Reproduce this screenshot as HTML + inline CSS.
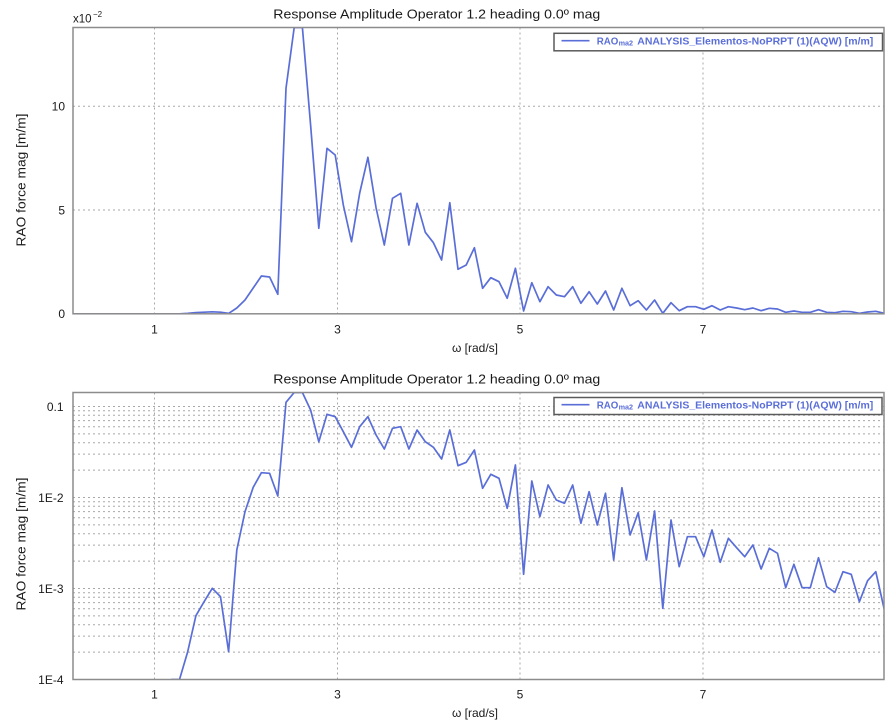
<!DOCTYPE html>
<html>
<head>
<meta charset="utf-8">
<style>
  html, body { margin:0; padding:0; background:#ffffff; }
  svg { display:block; }
  text { font-family: "Liberation Sans", "DejaVu Sans", sans-serif; fill:#1a1a1a; }
</style>
</head>
<body>
<svg width="888" height="727" viewBox="0 0 888 727" xmlns="http://www.w3.org/2000/svg">
  <defs>
    <clipPath id="clipTop"><rect x="73" y="27.5" width="811" height="286.3"/></clipPath>
    <clipPath id="clipBot"><rect x="73" y="392.5" width="811" height="287"/></clipPath>
  </defs>
  <rect x="0" y="0" width="888" height="727" fill="#ffffff"/>

  <!-- ================= TOP CHART ================= -->
  <text x="273.3" y="18.5" font-size="13" textLength="327" lengthAdjust="spacingAndGlyphs">Response Amplitude Operator 1.2 heading 0.0º mag</text>
  <text x="73" y="22.5" font-size="11.5">x10</text>
  <text x="93" y="17" font-size="8">−2</text>

  <!-- grid -->
  <g stroke="#a8a8a8" stroke-width="1" stroke-dasharray="2,3" fill="none">
    <line x1="154.5" y1="27.5" x2="154.5" y2="313.8"/>
    <line x1="337.5" y1="27.5" x2="337.5" y2="313.8"/>
    <line x1="520" y1="27.5" x2="520" y2="313.8"/>
    <line x1="703" y1="27.5" x2="703" y2="313.8"/>
    <line x1="73" y1="210" x2="884" y2="210"/>
    <line x1="73" y1="106.3" x2="884" y2="106.3"/>
  </g>

  <!-- series -->
  <polyline clip-path="url(#clipTop)" fill="none" stroke="#5a6ed8" stroke-width="1.7" stroke-linejoin="round"
    points="73,313.8 179.5,313.8 187.7,313.3 195.9,312.6 204.1,312.2 212.3,311.8 220.5,312.2 228.6,313.4 236.8,308 245,300 253.2,288 261.4,276 269.6,277 277.8,294.3 286,88.3 294.2,27.5 302.4,27.5 310.6,125 318.8,228.3 327,148.3 335.2,155 343.3,205 351.5,241.7 359.7,193 367.9,157.3 376.1,208 384.3,245 392.5,198.3 400.7,193.3 408.9,245 417.1,203.3 425.3,232.3 433.4,242.7 441.6,260 449.8,202.7 458,269.3 466.2,265 474.4,247.7 482.6,288.3 490.8,277.7 499,281.7 507.2,298.3 515.4,268.3 523.6,311 531.8,282.7 539.9,301.7 548.1,286.7 556.3,295 564.5,296.7 572.7,286.7 580.9,303.3 589.1,291.7 597.3,304 605.5,291 613.7,310 621.9,288.3 630.1,305.7 638.2,300.7 646.4,310 654.6,300 662.8,313.3 671,302.7 679.2,310.7 687.4,306.7 695.6,306.7 703.8,309.3 712,305.7 720.2,310 728.4,306.7 736.6,308 744.7,309.7 752.9,308 761.1,310.7 769.3,308.3 777.5,309 785.7,312.3 793.9,311 802.1,312.3 810.3,312.3 818.5,309.7 826.7,312.3 834.9,312.7 843,311.3 851.2,311.7 859.4,313.3 867.6,312 875.8,311.3 884,313.3"/>

  <!-- frame -->
  <rect x="73" y="27.5" width="811" height="286.3" fill="none" stroke="#8c8c8c" stroke-width="1.5"/>

  <!-- y ticks -->
  <g font-size="12" text-anchor="end">
    <text x="65" y="110.6">10</text>
    <text x="65" y="214.3">5</text>
    <text x="65" y="318.1">0</text>
  </g>
  <!-- x ticks -->
  <g font-size="12" text-anchor="middle">
    <text x="154.5" y="333.5">1</text>
    <text x="337.5" y="333.5">3</text>
    <text x="520" y="333.5">5</text>
    <text x="703" y="333.5">7</text>
  </g>
  <text x="475" y="352" font-size="12" text-anchor="middle">ω [rad/s]</text>
  <text transform="translate(25.5,180) rotate(-90)" font-size="13" text-anchor="middle" textLength="133" lengthAdjust="spacingAndGlyphs">RAO force mag [m/m]</text>

  <!-- legend -->
  <rect x="554" y="33.3" width="328.5" height="17.5" fill="#ffffff" stroke="#5a5a5a" stroke-width="1.5"/>
  <line x1="561.5" y1="40.7" x2="589.5" y2="40.7" stroke="#5a6ed8" stroke-width="1.7"/>
  <text x="596.7" y="44.6" font-size="10.5" font-weight="bold" style="fill:#5a6ed8" textLength="21.6" lengthAdjust="spacingAndGlyphs">RAO</text>
  <text x="618.6" y="45.6" font-size="7" font-weight="bold" style="fill:#5a6ed8" textLength="14.5" lengthAdjust="spacingAndGlyphs">ma2</text>
  <text x="637.3" y="44.6" font-size="10.5" font-weight="bold" style="fill:#5a6ed8" textLength="236" lengthAdjust="spacingAndGlyphs">ANALYSIS_Elementos-NoPRPT (1)(AQW) [m/m]</text>

  <!-- ================= BOTTOM CHART ================= -->
  <text x="273.3" y="383.5" font-size="13" textLength="327" lengthAdjust="spacingAndGlyphs">Response Amplitude Operator 1.2 heading 0.0º mag</text>

  <!-- grid -->
  <g stroke="#a8a8a8" stroke-width="1" stroke-dasharray="2,3" fill="none">
    <line x1="154.5" y1="392.5" x2="154.5" y2="679.5"/>
    <line x1="337.5" y1="392.5" x2="337.5" y2="679.5"/>
    <line x1="520" y1="392.5" x2="520" y2="679.5"/>
    <line x1="703" y1="392.5" x2="703" y2="679.5"/>
    <!-- decade 1e-4 .. 1e-3 -->
    <line x1="73" y1="652.1" x2="884" y2="652.1"/>
    <line x1="73" y1="636.1" x2="884" y2="636.1"/>
    <line x1="73" y1="624.7" x2="884" y2="624.7"/>
    <line x1="73" y1="615.9" x2="884" y2="615.9"/>
    <line x1="73" y1="608.7" x2="884" y2="608.7"/>
    <line x1="73" y1="602.6" x2="884" y2="602.6"/>
    <line x1="73" y1="597.3" x2="884" y2="597.3"/>
    <line x1="73" y1="592.7" x2="884" y2="592.7"/>
    <line x1="73" y1="588.5" x2="884" y2="588.5"/>
    <!-- decade 1e-3 .. 1e-2 -->
    <line x1="73" y1="561.1" x2="884" y2="561.1"/>
    <line x1="73" y1="545.1" x2="884" y2="545.1"/>
    <line x1="73" y1="533.7" x2="884" y2="533.7"/>
    <line x1="73" y1="524.9" x2="884" y2="524.9"/>
    <line x1="73" y1="517.7" x2="884" y2="517.7"/>
    <line x1="73" y1="511.6" x2="884" y2="511.6"/>
    <line x1="73" y1="506.3" x2="884" y2="506.3"/>
    <line x1="73" y1="501.7" x2="884" y2="501.7"/>
    <line x1="73" y1="497.5" x2="884" y2="497.5"/>
    <!-- decade 1e-2 .. 0.1 -->
    <line x1="73" y1="470.1" x2="884" y2="470.1"/>
    <line x1="73" y1="454.1" x2="884" y2="454.1"/>
    <line x1="73" y1="442.7" x2="884" y2="442.7"/>
    <line x1="73" y1="433.9" x2="884" y2="433.9"/>
    <line x1="73" y1="426.7" x2="884" y2="426.7"/>
    <line x1="73" y1="420.6" x2="884" y2="420.6"/>
    <line x1="73" y1="415.3" x2="884" y2="415.3"/>
    <line x1="73" y1="410.7" x2="884" y2="410.7"/>
    <line x1="73" y1="406.5" x2="884" y2="406.5"/>
  </g>

  <!-- series -->
  <polyline clip-path="url(#clipBot)" fill="none" stroke="#5a6ed8" stroke-width="1.7" stroke-linejoin="round"
    points="171.3,679.5 179.5,679.5 187.7,651.7 195.9,615.7 204.1,601.7 212.3,588.3 220.5,596.7 228.6,651.7 236.8,550 245,511.7 253.2,487.3 261.4,472.7 269.6,473.3 277.8,496 286,402.3 294.2,392.5 302.4,392.5 310.6,410 318.8,441.7 327,414.3 335.2,416.7 343.3,431.7 351.5,447.3 359.7,426.7 367.9,416.7 376.1,435 384.3,449 392.5,428.3 400.7,426.7 408.9,449 417.1,430 425.3,441.7 433.4,447.3 441.6,459 449.8,430 458,465.7 466.2,462.3 474.4,450 482.6,488.3 490.8,474.3 499,478.3 507.2,508.3 515.4,465 523.6,574.3 531.8,481 539.9,516.7 548.1,485 556.3,500 564.5,503.3 572.7,485 580.9,523.3 589.1,491.7 597.3,525 605.5,493.3 613.7,560 621.9,487.7 630.1,535 638.2,512.7 646.4,560 654.6,511 662.8,608.3 671,520 679.2,566.7 687.4,536.7 695.6,536.7 703.8,556.7 712,530 720.2,562.3 728.4,538.3 736.6,547.7 744.7,556.7 752.9,545 761.1,569 769.3,548.3 777.5,553.3 785.7,587.7 793.9,564.3 802.1,587.7 810.3,587.7 818.5,557.7 826.7,586.7 834.9,592.3 843,571.7 851.2,574.3 859.4,601.7 867.6,580.7 875.8,571.7 884,608.3"/>

  <!-- frame -->
  <rect x="73" y="392.5" width="811" height="287" fill="none" stroke="#8c8c8c" stroke-width="1.5"/>

  <!-- y ticks -->
  <g font-size="12" text-anchor="end">
    <text x="63.5" y="410.8">0.1</text>
    <text x="63.5" y="501.8">1E-2</text>
    <text x="63.5" y="592.8">1E-3</text>
    <text x="63.5" y="683.8">1E-4</text>
  </g>
  <!-- x ticks -->
  <g font-size="12" text-anchor="middle">
    <text x="154.5" y="698.5">1</text>
    <text x="337.5" y="698.5">3</text>
    <text x="520" y="698.5">5</text>
    <text x="703" y="698.5">7</text>
  </g>
  <text x="475" y="717" font-size="12" text-anchor="middle">ω [rad/s]</text>
  <text transform="translate(25.5,544) rotate(-90)" font-size="13" text-anchor="middle" textLength="133" lengthAdjust="spacingAndGlyphs">RAO force mag [m/m]</text>

  <!-- legend -->
  <rect x="554" y="397.5" width="328" height="17" fill="#ffffff" stroke="#5a5a5a" stroke-width="1.5"/>
  <line x1="561.5" y1="404.7" x2="589.5" y2="404.7" stroke="#5a6ed8" stroke-width="1.7"/>
  <text x="596.7" y="408.7" font-size="10.5" font-weight="bold" style="fill:#5a6ed8" textLength="21.6" lengthAdjust="spacingAndGlyphs">RAO</text>
  <text x="618.6" y="409.7" font-size="7" font-weight="bold" style="fill:#5a6ed8" textLength="14.5" lengthAdjust="spacingAndGlyphs">ma2</text>
  <text x="637.3" y="408.7" font-size="10.5" font-weight="bold" style="fill:#5a6ed8" textLength="236" lengthAdjust="spacingAndGlyphs">ANALYSIS_Elementos-NoPRPT (1)(AQW) [m/m]</text>
</svg>
</body>
</html>
